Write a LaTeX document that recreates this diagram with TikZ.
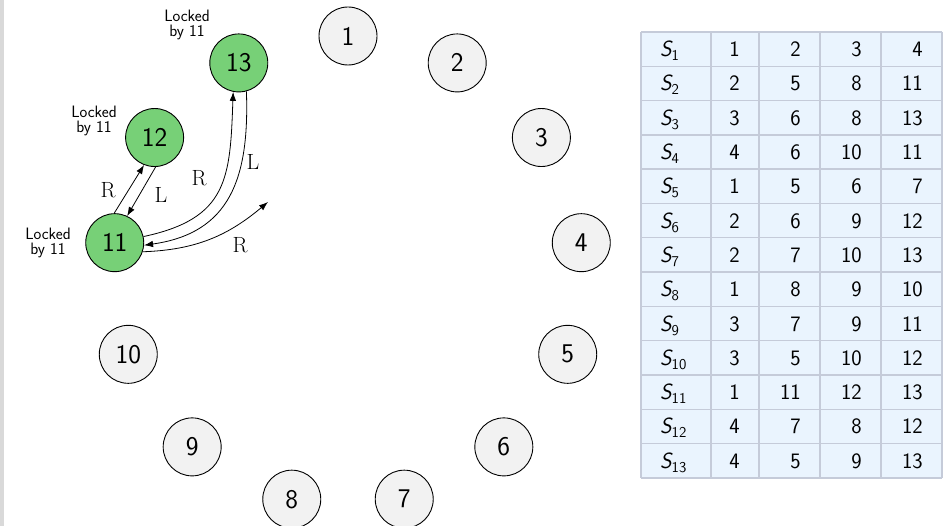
\documentclass[tikz,border=0pt]{standalone}
\usepackage{fontspec}
\usetikzlibrary{arrows.meta,calc}
\definecolor{nodegray}{HTML}{F2F2F2}
\definecolor{lockgreen}{HTML}{77D077}
\definecolor{tabfill}{HTML}{EAF4FE}
\definecolor{tabline}{HTML}{C5CBD9}
\definecolor{leftbar}{HTML}{D9D9D9}
\begin{document}
\begin{tikzpicture}[x=1pt,y=1pt,
  circ/.style={circle,draw,line width=0.9pt,minimum size=58pt,inner sep=0pt,fill=nodegray,font=\fontsize{27}{27}\sffamily},
  lockedc/.style={circ,fill=lockgreen},
  lbl/.style={font=\fontsize{22}{22}\selectfont,inner sep=0pt},
  lock/.style={font=\fontsize{16.5}{15}\sffamily,align=center,inner sep=0pt},
  arr/.style={-{Latex[length=9pt,width=6.5pt]},line width=0.8pt},
  tcell/.style={font=\fontsize{22}{22}\sffamily,inner sep=0pt},
  tline/.style={draw=tabline,line width=1.4pt}]
\useasboundingbox (0,0) rectangle (948,-526);
\fill[leftbar] (0,0) rectangle (4,-526);
% ring of nodes
\foreach \i in {1,...,10}
  \node[circ] (n\i) at ($(348,-271)+({90-(\i-1)*360/13}:235)$) {\i};
\foreach \i in {11,12,13}
  \node[lockedc] (n\i) at ($(348,-271)+({90-(\i-1)*360/13}:235)$) {\i};
% locked labels
\node[lock] (k13) at (187,-25) {Locked\\by 11};
\node[lock] (k12) at (94,-121) {Locked\\by 11};
\node[lock] (k11) at (48,-243) {Locked\\by 11};
% connectors
\coordinate (free) at (268,-202);
\draw[arr] (n11.91) -- (n12.249);
\draw[arr] (n12.-88) -- (n11.65);
\draw[arr] (n11.12) to[out=12,in=-92,looseness=1.3] (n13.259);
\draw[arr] (n13.-75) to[out=-88,in=8,looseness=1.2] (n11.-5);
\draw[arr] (n11.-18) to[out=2,in=220] (free);
\node[lbl] (r1) at (108,-190) {R};
\node[lbl] (l1) at (161,-195) {L};
\node[lbl] (r2) at (199,-178) {R};
\node[lbl] (l2) at (253,-162) {L};
\node[lbl] (r3) at (240,-245) {R};
% table
\fill[tabfill] (641,-32) rectangle (942,-478);
\foreach \k in {0,...,13}
  \draw[tline] (641,{-32-\k*34.3}) -- (942,{-32-\k*34.3});
\foreach \xx in {641,711,759,820,881,942}
  \draw[tline] (\xx,-32) -- (\xx,-478);
\foreach \r/\a/\b/\c/\d in {1/1/2/3/4,2/2/5/8/11,3/3/6/8/13,4/4/6/10/11,5/1/5/6/7,6/2/6/9/12,7/2/7/10/13,8/1/8/9/10,9/3/7/9/11,10/3/5/10/12,11/1/11/12/13,12/4/7/8/12,13/4/5/9/13}{
  \pgfmathsetmacro\yb{-32-(\r-0.5)*34.3-7.5}
  \node[tcell,anchor=base west] (s\r) at (660,\yb) {{\itshape S}\raisebox{-4pt}{\fontsize{15}{15}\selectfont\r}};
  \node[tcell,anchor=base east] (a\r) at (740,\yb) {\a};
  \node[tcell,anchor=base east] (b\r) at (801,\yb) {\b};
  \node[tcell,anchor=base east] (c\r) at (862,\yb) {\c};
  \node[tcell,anchor=base east] (d\r) at (923,\yb) {\d};
}
\end{tikzpicture}
\end{document}
